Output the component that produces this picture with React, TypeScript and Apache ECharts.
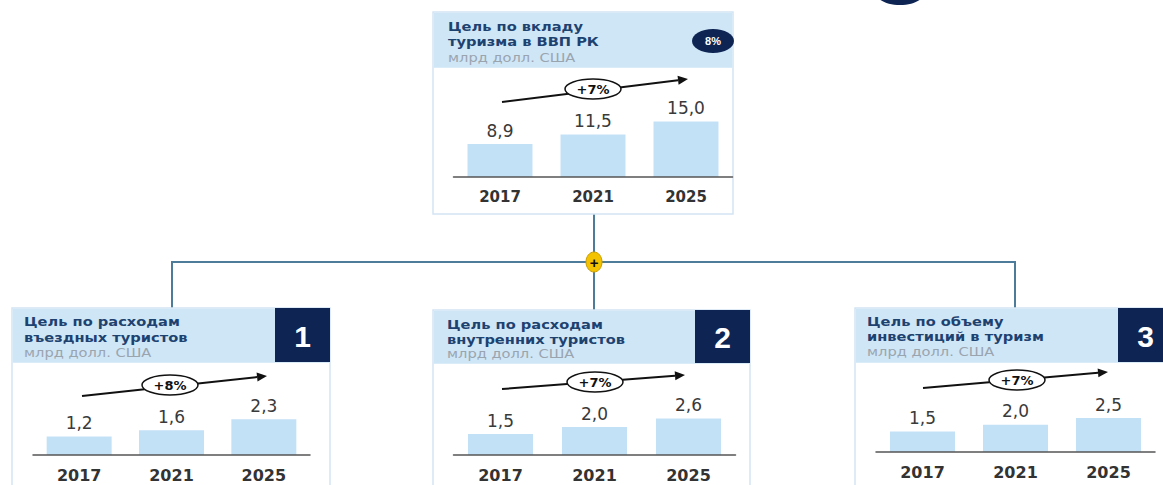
import React, { useEffect, useRef } from "react";
import * as echarts from "echarts";

const years = ["2017", "2021", "2025"];
const gdpValues = [8.9, 11.5, 15.0];
const inboundValues = [1.2, 1.6, 2.3];
const domesticValues = [1.5, 2.0, 2.6];
const investValues = [1.5, 2.0, 2.5];
const growthLabels = ["+7%", "+8%", "+7%", "+7%"];
const topTitle = ["Цель по вкладу", "туризма в ВВП РК"];
const card1Title = ["Цель по расходам", "въездных туристов"];
const card2Title = ["Цель по расходам", "внутренних туристов"];
const card3Title = ["Цель по объему", "инвестиций в туризм"];
const unitLabel = "млрд долл. США";
const shareLabel = "8%";
const cardNumbers = ["1", "2", "3"];

const HEADER = "#cfe6f7";
const BAR = "#c3e1f6";
const NAVY = "#0e2553";
const TITLE = "#1e426f";
const SUB = "#9aa4ae";
const LINK = "#4c7c99";
const BORDER = "#d3e5f3";
const FONT = "'DejaVu Sans', 'Liberation Sans', sans-serif";

function fmt(v: number) {
  return v.toFixed(1).replace(".", ",");
}

function arrow(x1: number, y1: number, x2: number, y2: number, cx: number, cy: number, label: string) {
  const a = Math.atan2(y2 - y1, x2 - x1);
  const L = 10, W = 4.5;
  const bx = x2 - L * Math.cos(a), by = y2 - L * Math.sin(a);
  const px = -Math.sin(a) * W, py = Math.cos(a) * W;
  return [
    { type: "line", z: 10, shape: { x1, y1, x2: bx, y2: by }, style: { stroke: "#111", lineWidth: 2 } },
    { type: "polygon", z: 10, shape: { points: [[x2, y2], [bx + px, by + py], [bx - px, by - py]] }, style: { fill: "#111" } },
    { type: "ellipse", z: 11, shape: { cx, cy, rx: 28, ry: 10 }, style: { fill: "#fff", stroke: "#111", lineWidth: 1.5 } },
    { type: "text", z: 12, x: cx, y: cy, style: { text: label, font: `bold 13px ${FONT}`, fill: "#111", align: "center", verticalAlign: "middle" } },
  ];
}

function titleTexts(x: number, ys: number[], lines: string[]) {
  const out: any[] = [];
  lines.forEach((t, i) => {
    out.push({ type: "text", z: 5, x, y: ys[i], scaleX: 1.22, style: { text: t, font: `bold 12px ${FONT}`, fill: TITLE, verticalAlign: "middle" } });
  });
  out.push({ type: "text", z: 5, x, y: ys[2], scaleX: 1.22, style: { text: unitLabel, font: `12px ${FONT}`, fill: SUB, verticalAlign: "middle" } });
  return out;
}

function card(x: number, y: number, w: number, h: number, hh: number) {
  return [
    { type: "rect", z: 1, shape: { x, y, width: w, height: h }, style: { fill: "#fff", stroke: BORDER, lineWidth: 1.5 } },
    { type: "rect", z: 2, shape: { x: x + 0.75, y: y + 0.75, width: w - 1.5, height: hh }, style: { fill: HEADER } },
  ];
}

function numBox(x: number, y: number, w: number, h: number, n: string) {
  return [
    { type: "rect", z: 3, shape: { x, y, width: w, height: h }, style: { fill: NAVY } },
    { type: "text", z: 4, x: x + w / 2, y: y + h / 2 + 1, style: { text: n, font: `bold 30px 'Liberation Sans', Arial, sans-serif`, fill: "#fff", align: "center", verticalAlign: "middle" } },
  ];
}

export default function App() {
  const ref = useRef<HTMLDivElement>(null);
  useEffect(() => {
    if (!ref.current) return;
    const chart = echarts.init(ref.current, null, { renderer: "svg" });
    const grids = [
      { left: 453.5, top: 103, width: 279, height: 74, max: 20, data: gdpValues, yf: 15 },
      { left: 33, top: 393, width: 277, height: 62, max: 4, data: inboundValues, yf: 16 },
      { left: 453.5, top: 399, width: 282, height: 56, max: 4, data: domesticValues, yf: 16 },
      { left: 876, top: 397.6, width: 279, height: 54.4, max: 4, data: investValues, yf: 16 },
    ];
    const graphic: any[] = [
      { type: "ellipse", z: 1, shape: { cx: 900, cy: -7, rx: 24, ry: 12 }, style: { fill: NAVY } },
      { type: "line", z: 0, shape: { x1: 594, y1: 214, x2: 594, y2: 310 }, style: { stroke: LINK, lineWidth: 2 } },
      { type: "polyline", z: 0, shape: { points: [[172, 308], [172, 262], [1015, 262], [1015, 308]] }, style: { stroke: LINK, lineWidth: 2, fill: "none" } },
      { type: "ellipse", z: 5, shape: { cx: 594, cy: 262, rx: 8, ry: 10 }, style: { fill: "#f3c300", stroke: "#c99d00", lineWidth: 1 } },
      { type: "text", z: 6, x: 594, y: 262, style: { text: "+", font: `bold 15px 'Liberation Sans', Arial, sans-serif`, fill: "#111", align: "center", verticalAlign: "middle" } },
      ...card(433, 12, 300, 202, 55),
      ...titleTexts(448, [27, 42, 58], topTitle),
      { type: "ellipse", z: 4, shape: { cx: 713, cy: 41, rx: 21, ry: 12 }, style: { fill: NAVY } },
      { type: "text", z: 5, x: 713, y: 41, style: { text: shareLabel, font: `bold 11px 'Liberation Sans', Arial, sans-serif`, fill: "#fff", align: "center", verticalAlign: "middle" } },
      ...card(12, 308, 318, 200, 54),
      ...titleTexts(24, [322, 338, 353], card1Title),
      ...numBox(275, 308, 55, 54, cardNumbers[0]),
      ...card(433, 310, 317, 200, 53),
      ...titleTexts(447, [325, 340, 354], card2Title),
      ...numBox(695, 310, 55, 53, cardNumbers[1]),
      ...card(855, 308, 330, 200, 54),
      ...titleTexts(867, [322, 337, 352], card3Title),
      ...numBox(1118, 308, 55, 54, cardNumbers[2]),
      ...arrow(502, 102, 688, 79, 593, 89, growthLabels[0]),
      ...arrow(82, 396, 267, 376, 170, 385, growthLabels[1]),
      ...arrow(502, 389, 685, 375, 595, 382, growthLabels[2]),
      ...arrow(923, 388, 1108, 372, 1017, 380, growthLabels[3]),
    ];
    chart.setOption({
      animation: false,
      grid: grids.map((g) => ({ left: g.left, top: g.top, width: g.width, height: g.height, containLabel: false })),
      xAxis: grids.map((g, i) => ({
        type: "category",
        gridIndex: i,
        data: years,
        z: 6,
        axisLine: { lineStyle: { color: "#555", width: 1.5 } },
        axisTick: { show: false },
        axisLabel: { margin: 12, fontFamily: FONT, fontSize: g.yf, fontWeight: "bold", color: "#333" },
      })),
      yAxis: grids.map((g, i) => ({
        type: "value",
        gridIndex: i,
        min: 0,
        max: g.max,
        show: false,
        splitLine: { show: false },
      })),
      series: grids.map((g, i) => ({
        type: "bar",
        xAxisIndex: i,
        yAxisIndex: i,
        data: g.data,
        barWidth: 65,
        z: 3,
        itemStyle: { color: BAR },
        label: {
          show: true,
          position: "top",
          distance: 5,
          fontFamily: FONT,
          fontSize: 17,
          color: "#3a3a3a",
          formatter: (p: any) => fmt(p.value),
        },
      })),
      graphic,
    });
    return () => chart.dispose();
  }, []);
  return <div ref={ref} style={{ position: "fixed", left: 0, top: 0, width: 1163, height: 485, background: "#fff" }} />;
}
